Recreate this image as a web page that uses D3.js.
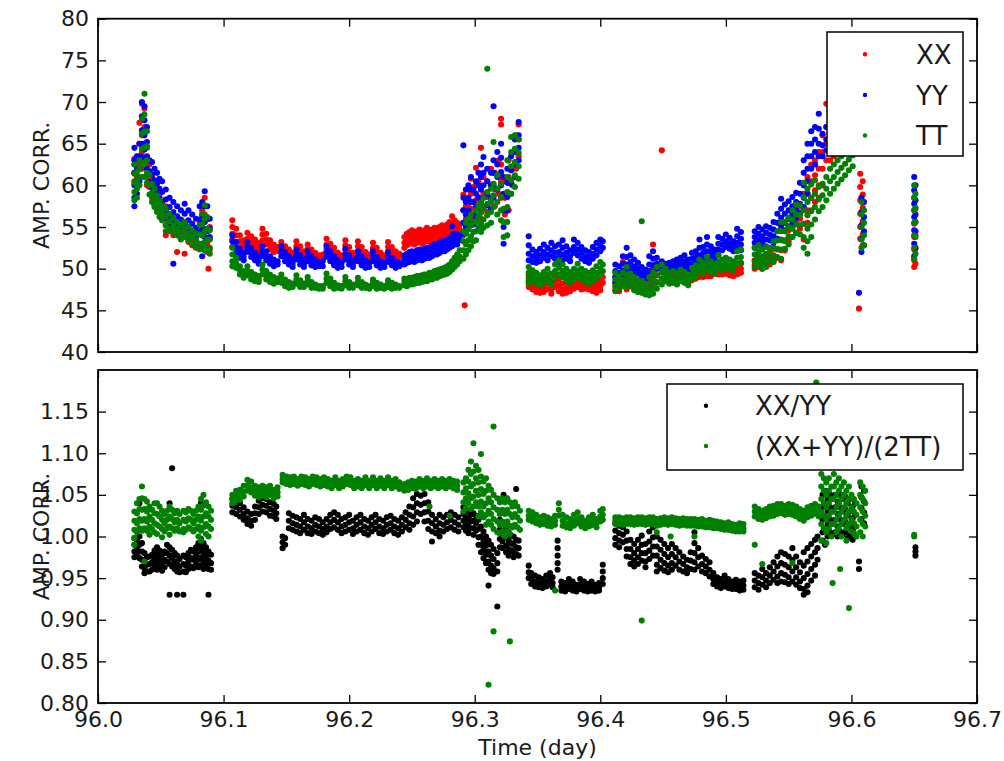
<!DOCTYPE html>
<html><head><meta charset="utf-8">
<script src="https://cdn.jsdelivr.net/npm/d3@7"></script>
<style>html,body{margin:0;padding:0;background:#fff;}svg{display:block;font-family:"DejaVu Sans",sans-serif;}</style>
</head><body><svg id="c" width="1004" height="761"></svg>
<script>
// ---------------- DATA ----------------
const xTicks = [96.0, 96.1, 96.2, 96.3, 96.4, 96.5, 96.6, 96.7];
const topYTicks = [40, 45, 50, 55, 60, 65, 70, 75, 80];
const botYTicks = [0.80, 0.85, 0.90, 0.95, 1.00, 1.05, 1.10, 1.15];
const topLegend = ["XX", "YY", "TT"];
const botLegend = ["XX/YY", "(XX+YY)/(2TT)"];
const yLabel = "AMP. CORR.";
const xLabel = "Time (day)";

// each entry: [time (day), [values read at that time]]
const seriesXX = [
[96.029,[60.5,61.5,62.5,63.2]],[96.031,[60,61,62.5]],[96.033,[63,65,67.5]],[96.035,[69.8,68,66,64,62]],[96.037,[69.2,67,65,63]],
[96.039,[64.5,62.5,61,60]],[96.041,[62.5,61,59.8]],[96.043,[61,59.8,58.5]],[96.045,[60,58.8,57.6]],[96.047,[59.5,58.3,57.2]],
[96.049,[58.6,57.6,56.6]],[96.051,[58,57,56]],[96.054,[57.5,56.3,55.2,54]],[96.057,[56.5,55.5,54.5]],[96.060,[56,55,54]],
[96.063,[55.5,54.5,52]],[96.066,[55,54.3,53.5]],[96.069,[55.5,54.4,51.8]],[96.072,[55,54,53.2]],[96.075,[54.5,53.6,52.8]],
[96.078,[54,53.2,52.5]],[96.081,[55.5,54.3,53]],[96.083,[57,55.5,54,52.8]],[96.085,[58.5,56.5,54.8,53]],[96.087,[56,54.5,53,52]],
[96.088,[50]],[96.089,[55,53.6,52.3]],
[96.107,[55.8,55,54.2,53.5]],[96.110,[54.8,54,53.2]],[96.113,[54,53.3,52.6]],[96.116,[53.4,52.8,52.3]],[96.119,[54.3,53.6,52.9]],
[96.122,[53.9,53.2,52.6]],[96.125,[53.5,52.9,52.3]],[96.128,[53.1,52.6,52.1]],[96.131,[54.8,54.1,53.4]],[96.134,[54.2,53.5,52.9]],
[96.137,[53.4,52.8,52.3]],[96.140,[52.9,52.4,52]],[96.143,[52.6,52.1]],[96.146,[53.2,52.6,52]],[96.149,[52.7,52.1,51.6]],
[96.152,[52.3,51.8,51.3]],[96.155,[51.9,51.4,51]],[96.158,[53.3,52.7,52.1]],[96.161,[52.7,52.1,51.6]],[96.164,[52.1,51.6,51.2]],
[96.167,[52.9,52.3,51.8]],[96.170,[52.3,51.8,51.3]],[96.173,[51.9,51.4,51]],[96.176,[51.6,51.1]],[96.179,[51.7,51.2]],
[96.182,[53.6,52.9,52.3]],[96.185,[53,52.4,51.8]],[96.188,[52.5,51.9,51.4]],[96.191,[51.9,51.4,51]],[96.194,[51.6,51.1]],
[96.197,[53.4,52.8,52.2]],[96.200,[52.6,52,51.5]],[96.203,[51.9,51.4,51]],[96.207,[53.3,52.7,52.1]],[96.210,[52.6,52,51.5]],
[96.213,[52,51.5,51.1]],[96.216,[51.7,51.2]],[96.219,[53.1,52.5,52]],[96.222,[52.5,51.9,51.4]],[96.225,[51.9,51.4,51.1]],
[96.228,[51.6,51.2]],[96.231,[53.2,52.6,52]],[96.234,[52.6,52,51.5]],[96.237,[52.1,51.6,51.2]],[96.240,[51.8,51.4]],
[96.244,[53.8,53.1,52.5]],[96.246,[54.2,53.5,52.8]],[96.248,[54.4,53.7,53]],[96.250,[54.6,53.9,53.2]],[96.252,[54.2,53.5,52.9]],
[96.254,[54.5,53.8,53.1]],[96.256,[54.7,54,53.3]],[96.258,[54.3,53.6,53]],[96.260,[54.6,53.9,53.2]],[96.262,[54.9,54.2,53.5]],
[96.264,[54.5,53.8,53.2]],[96.266,[54.7,54,53.4]],[96.268,[54.9,54.2,53.6]],[96.270,[54.8,54.1,53.5]],[96.272,[55,54.3,53.7]],
[96.274,[55.2,54.5,53.9]],[96.276,[55,54.4,53.8]],[96.278,[55.3,54.6,54]],[96.280,[55.6,54.9,54.2]],[96.282,[56.3,55.5,54.7]],
[96.284,[55.8,55,54.4]],[96.286,[55.5,54.8,54.2]],[96.288,[55.3,54.7]],
[96.291,[58.9,57,55.5,54]],[96.292,[45.6]],[96.293,[57.5,56,54.5]],[96.295,[59.5,57.8,56.2,54.8]],[96.297,[60.8,59,57.2,55.6]],
[96.299,[59.8,58,56.2]],[96.301,[62.1,60,58.2,56.4]],[96.303,[60.5,58.6,56.8]],[96.305,[64.5,59.5,57.7,56]],[96.307,[61,59,57.2]],
[96.310,[60.5,58.6,56.8]],[96.313,[62,60,58]],[96.316,[61.5,59.5,57.5]],[96.319,[63,61,59]],[96.321,[68,67.3,62.5,60.5,58.5]],
[96.324,[60.5,58.5,56.5]],[96.327,[63,61,59,57]],[96.330,[64,62,60]],[96.333,[66,64,62]],[96.335,[67.3,65.5,63.5]],
[96.343,[49.2,48.5,47.8]],[96.346,[48.8,48.1,47.5]],[96.349,[48.5,47.8,47.2]],[96.352,[48.3,47.6,47.1]],[96.355,[48.6,47.8,47.2]],
[96.358,[48.9,48.2,47.5]],[96.361,[48.2,47.5,47]],[96.364,[49.3,48.5,47.8]],[96.367,[48.7,48,47.3]],[96.370,[48.2,47.5,47]],
[96.373,[48.3,47.6,47.1]],[96.376,[48.6,47.9,47.3]],[96.379,[48.9,48.2,47.6]],[96.382,[49.1,48.4,47.8]],[96.385,[48.7,48,47.5]],
[96.388,[48.9,48.2,47.6]],[96.391,[48.6,48,47.5]],[96.394,[48.4,47.8,47.3]],[96.397,[48.2,47.6,47.1]],[96.400,[48.6,47.9,47.4]],
[96.402,[49,48.3]],
[96.412,[49,48.2,47.5]],[96.415,[48.6,47.9,47.3]],[96.418,[50.8,49,48.2]],[96.421,[48.9,48.1,47.5]],[96.424,[49.5,48.6,47.9]],
[96.427,[49,48.3,47.6]],[96.430,[48.6,47.9,47.3]],[96.433,[48.8,48,47.4]],[96.436,[48.3,47.6,47]],[96.439,[48.6,47.9,47.2]],
[96.442,[52.9,50,49,48.2]],[96.445,[50,49.2,48.4]],[96.449,[64.2,49.6,48.8]],[96.452,[50,49.2,48.5]],[96.455,[49.6,48.9,48.3]],
[96.458,[49.6,49,48.4]],[96.461,[49.4,48.8,48.2]],[96.464,[49.8,49.2,48.6]],[96.467,[49.5,48.9,48.4]],[96.470,[49.3,48.7,48.2]],
[96.473,[49.7,49.1,48.6]],[96.476,[49.9,49.3,48.8]],[96.479,[50.1,49.5,49]],[96.482,[49.9,49.4,49]],[96.485,[50.1,49.6,49.1]],
[96.488,[50,49.5,49.1]],[96.491,[50.5,49.9,49.4]],[96.494,[50.3,49.8,49.3]],[96.497,[50.3,49.8,49.3]],[96.500,[50.4,49.9,49.4]],
[96.503,[50.1,49.6,49.2]],[96.506,[50.3,49.7,49.1]],[96.509,[50.5,49.9,49.3]],[96.512,[50.6,50,49.5]],
[96.523,[51,50.5,50]],[96.526,[51.5,50.8,50.2]],[96.529,[51.2,50.6,50]],[96.532,[51.5,50.8,50.2]],[96.535,[52,51.2,50.5]],
[96.538,[52.5,51.6,50.9]],[96.541,[53.5,52.3,51.3]],[96.544,[55,53.5,52.2,51]],[96.547,[54.5,53.3,52.2]],[96.550,[56,54.6,53.3]],
[96.553,[56.5,55,53.8]],[96.556,[57,55.6,54.3]],[96.559,[57.5,56,54.8]],[96.562,[59,57.2,55.4,53.5]],[96.565,[61,59,57,55.5]],
[96.568,[62.5,60.5,58.5,57]],[96.571,[63,61.2,59.4,58]],[96.574,[64,62,60,58.5]],[96.577,[66,64,62,60]],[96.580,[69.8,67,65,63]],
[96.583,[66.5,64.5,63]],[96.586,[67,65,63.5]],[96.589,[67.5,65.5,64]],[96.592,[68,66]],[96.595,[68,66.2]],
[96.606,[45.2]],[96.607,[61.4,59.8,58.2,56.6,55,53.6]],[96.609,[60.5,58.9,57.3,55.7,54.1,52.8]],
[96.650,[58.5,57,55.4,53.8,52.3,51,50.2]],[96.651,[57.2,55.6,54,52.4,50.6]]
];

const seriesYY = [
[96.029,[64.5,63,61.5,60,58.5,57.5]],[96.031,[63.5,62,60.5,59]],[96.033,[65,63.5,62,60.5]],[96.035,[70,68.3,66.6,65,63.4]],
[96.037,[69.5,67.8,66,64.3]],[96.039,[67,65.2,63.5,62]],[96.041,[63,61.7,60.4]],[96.043,[62.8,61.3,59.8]],[96.045,[62,60.6,59.2]],
[96.047,[61.5,60.2,58.9]],[96.049,[60.8,59.6,58.4]],[96.051,[60.5,59.2,57.8]],[96.054,[59.5,58.3,57,56]],[96.057,[58.5,57.4,56.3,55.2]],
[96.060,[58,56.8,55.6,50.6]],[96.063,[57.5,56.3,55.2]],[96.066,[57,55.9,54.8]],[96.069,[57.8,56.6,55.4]],[96.072,[57,55.8,54.7]],
[96.075,[56.5,55.4,54.3]],[96.078,[56,54.9,53.8]],[96.081,[57.5,55.9,54.4]],[96.083,[58,56.4,54.8,51.5]],[96.085,[59.3,57.5,55.6,53.8]],
[96.087,[57.5,56,54.5]],[96.089,[56,54.8,53.8]],
[96.107,[54,53.3,52.6]],[96.110,[53.2,52.5,51.9]],[96.113,[52.4,51.8,51.3]],[96.116,[51.9,51.4,51]],[96.119,[53.2,52.6,52]],
[96.122,[52.5,51.9,51.4]],[96.125,[51.9,51.4,51]],[96.128,[51.5,51,50.6]],[96.131,[52.7,52.1,51.5]],[96.134,[52.1,51.5,51]],
[96.137,[51.5,51,50.6]],[96.140,[51.1,50.7,50.3]],[96.143,[50.9,50.5]],[96.146,[52.7,52.1,51.5]],[96.149,[52,51.4,50.9]],
[96.152,[51.5,50.9,50.5]],[96.155,[51.1,50.6,50.2]],[96.158,[52.3,51.7,51.1]],[96.161,[51.6,51,50.5]],[96.164,[51.1,50.6,50.2]],
[96.167,[52.1,51.5,50.9]],[96.170,[51.5,50.9,50.4]],[96.173,[51.1,50.6,50.2]],[96.176,[50.8,50.3]],[96.179,[50.9,50.3]],
[96.182,[52.7,52,51.4]],[96.185,[52.1,51.5,50.9]],[96.188,[51.5,50.9,50.4]],[96.191,[51,50.5,50.1]],[96.194,[50.7,50.2]],
[96.197,[52.4,51.7,51.1]],[96.200,[51.6,51,50.5]],[96.203,[51.1,50.6,50.2]],[96.207,[52.1,51.5,50.9]],[96.210,[51.5,50.9,50.4]],
[96.213,[51,50.5,50.1]],[96.216,[50.7,50.2]],[96.219,[52.1,51.5,50.9]],[96.222,[51.4,50.9,50.4]],[96.225,[50.9,50.5,50.1]],
[96.228,[50.7,50.2]],[96.231,[52,51.4,50.8]],[96.234,[51.3,50.8,50.4]],[96.237,[50.9,50.5,50.1]],[96.240,[50.7,50.3]],
[96.244,[51.6,51,50.5]],[96.246,[51.8,51.2,50.7]],[96.248,[52,51.4,50.8]],[96.250,[52.1,51.5,50.9]],[96.252,[51.9,51.3,50.8]],
[96.254,[52.2,51.6,51]],[96.256,[52.3,51.7,51.1]],[96.258,[52.1,51.5,51]],[96.260,[52.4,51.8,51.2]],[96.262,[52.5,51.9,51.3]],
[96.264,[52.4,51.8,51.3]],[96.266,[52.7,52.1,51.5]],[96.268,[52.9,52.3,51.7]],[96.270,[52.8,52.2,51.7]],[96.272,[53.1,52.5,51.9]],
[96.274,[53.3,52.7,52.1]],[96.276,[53.2,52.6,52.1]],[96.278,[53.5,52.9,52.3]],[96.280,[53.7,53.1,52.5]],[96.282,[55.1,54,53.3,52.7]],
[96.284,[54.2,53.5,52.9]],[96.286,[54.1,53.4,52.9]],[96.288,[54,53.4]],
[96.291,[64.8,58.5,57,55.5,54.2]],[96.293,[59.5,58,56.5,55]],[96.295,[60,58.5,57,55.8]],[96.297,[61,59.5,58,56.5]],
[96.299,[59.5,58,56.5,55.3]],[96.301,[60.5,59,57.5,56.2]],[96.303,[61.5,60,58.5,57]],[96.305,[62.5,61,59.5,58]],
[96.307,[63.4,61.5,60,58.5]],[96.310,[62,60.5,59,57.6]],[96.313,[61.5,60,58.5,57.2]],[96.315,[69.5,63,61.5,60,58.5]],
[96.318,[64,62.5,61,59.5]],[96.321,[65,63.3,61.6,60]],[96.323,[61,59,57,55,53]],[96.326,[62,60.3,58.6,57]],
[96.329,[63.5,61.8,60.2,59]],[96.332,[65.5,64,62.5,61]],[96.335,[67.6,66,64.5,63]],
[96.343,[53.9,52.8,51.8,51]],[96.346,[52.3,51.5,50.8]],[96.349,[52,51.3,50.7]],[96.352,[52.4,51.6,50.9]],[96.355,[52.9,52,51.3]],
[96.358,[52.5,51.7,51]],[96.361,[53.1,52.2,51.5]],[96.364,[52.7,51.9,51.2]],[96.367,[52.9,52,51.3,50.6]],[96.370,[53.4,52.5,51.7,51]],
[96.373,[52.7,51.9,51.2]],[96.376,[52.2,51.5,50.9]],[96.379,[53.5,52.6,51.9]],[96.382,[53.1,52.3,51.6]],[96.385,[52.6,51.9,51.2]],
[96.388,[52.2,51.5,50.9]],[96.391,[52,51.3,50.7]],[96.394,[52.6,51.8,51.2]],[96.397,[53.1,52.3,51.6]],[96.400,[53.5,52.8,52.1]],
[96.402,[53.3,52.5]],
[96.412,[50.5,49.7,49,48.4]],[96.415,[50.3,49.5,48.9]],[96.418,[51.5,50.6,49.8,49.1]],[96.421,[52.5,51.4,50.5,49.8]],
[96.424,[51.6,50.8,50.1]],[96.427,[51.1,50.3,49.7]],[96.430,[50.7,50,49.4]],[96.433,[50.2,49.5,48.9]],[96.436,[49.9,49.3,48.7]],
[96.439,[51.5,50.5,49.7,49]],[96.442,[52.1,51.2,50.4]],[96.445,[51.3,50.6,50]],[96.449,[50.9,50.2,49.6]],[96.452,[50.6,50,49.4]],
[96.455,[50.7,50.1,49.5]],[96.458,[50.9,50.3,49.7]],[96.461,[51.1,50.5,49.9]],[96.464,[51.3,50.7,50.1]],[96.467,[51.6,50.9,50.3]],
[96.470,[51.1,50.5,49.9]],[96.473,[51.9,51.2,50.5]],[96.476,[52.1,51.4,50.7]],[96.479,[53.5,52.5,51.6,50.9]],[96.482,[52.6,51.9,51.2]],
[96.485,[53.8,52.9,52.1,51.3]],[96.488,[52.7,52,51.3]],[96.491,[52.3,51.7,51.1]],[96.494,[53.8,53,52.3,51.6]],[96.497,[53.6,52.9,52.2]],
[96.500,[54.1,53.3,52.6]],[96.503,[53.7,53,52.4]],[96.506,[53.3,52.7,52.1]],[96.509,[54.8,53.9,53.1,52.4]],[96.512,[54.4,53.6,52.9,52.2]],
[96.523,[54.5,53.8,53.1,52.5]],[96.526,[55,54.2,53.5,52.8]],[96.529,[54.7,53.9,53.2,52.5]],[96.532,[55.1,54.3,53.5,52.7]],
[96.535,[54.9,54.1,53.4]],[96.538,[55.6,54.7,53.9,53.1]],[96.541,[56.6,55.5,54.5,53.6]],[96.544,[58.4,57.2,56.1,55.2]],
[96.547,[57.7,56.6,55.5,54.6]],[96.550,[58.1,57,56,55.1]],[96.553,[58.6,57.5,56.5,55.6]],[96.556,[59.1,58,57,56.1]],
[96.559,[60.3,59,57.8,56.7]],[96.562,[63,61.5,60,58.5,57.4]],[96.565,[65,63.5,62,60.5,59]],[96.568,[66.5,65,63.5,62]],
[96.571,[67,65.5,64,62.5]],[96.574,[68.6,66.8,65,63.5]],[96.577,[66.2,64.8,63.5]],[96.580,[67,65.5,64.2]],
[96.583,[66.2,64.9]],[96.586,[66.6,65.2]],
[96.606,[47.1]],[96.608,[58.5,56.8,55.2,53.6,52]],[96.610,[58,56.2,54.5,52.8]],
[96.650,[61,59.4,57.8,56.2,54.6,53,51.5]],[96.651,[60,58.2,56.5,54.5,52.5]]
];

const seriesTT = [
[96.029,[62.5,61.4,60.3,59.2,58.2]],[96.031,[61.6,60.6,59.6,58.5]],[96.033,[63,62,61,60]],[96.035,[68,66.2,64.4,62.6,61]],
[96.037,[71,68.5,66.5,64.5,62.6,61]],[96.039,[66.5,64.7,63,61.5,60.3]],[96.041,[61.2,60,58.9]],[96.043,[60.2,59.1,58]],
[96.045,[59.6,58.5,57.4]],[96.047,[58.8,57.8,56.8]],[96.049,[58.2,57.2,56.2]],[96.051,[57.6,56.7,55.8]],[96.054,[57.2,56.2,55.2,54.5]],
[96.057,[56.6,55.7,54.8]],[96.060,[56.1,55.2,54.3]],[96.063,[55.6,54.8,54]],[96.066,[55.2,54.4,53.6]],[96.069,[55.6,54.7,53.8]],
[96.072,[55,54.2,53.4]],[96.075,[54.6,53.8,53]],[96.078,[54.2,53.4,52.6]],[96.081,[55.2,54.1,53,52.3]],[96.083,[56.6,55.3,54,52.8]],
[96.085,[57.6,56,54.5,53.2,52.2]],[96.087,[56.2,54.8,53.5,52.4]],[96.089,[54.6,53.5,52.5,51.8]],
[96.107,[52.5,51.7,50.9,50.3]],[96.110,[51.3,50.7,50.1]],[96.113,[50.3,49.8,49.3]],[96.116,[49.7,49.3,48.9]],[96.119,[50.3,49.7,49.2]],
[96.122,[49.6,49.1,48.7]],[96.125,[49.3,48.9,48.5]],[96.128,[49.1,48.7,48.4]],[96.131,[50.5,49.9,49.3]],[96.134,[49.7,49.2,48.7]],
[96.137,[49.3,48.8,48.4]],[96.140,[49,48.6,48.2]],[96.143,[48.8,48.4]],[96.146,[49.3,48.8,48.3]],[96.149,[48.7,48.3,47.9]],
[96.152,[48.4,48,47.7]],[96.155,[48.2,47.8]],[96.158,[49.2,48.7,48.2]],[96.161,[48.6,48.2,47.8]],[96.164,[48.2,47.8]],
[96.167,[49,48.5,48.1]],[96.170,[48.4,48,47.7]],[96.173,[48.1,47.7]],[96.176,[47.9,47.6]],[96.179,[47.9,47.6]],
[96.182,[49.4,48.8,48.3]],[96.185,[48.8,48.3,47.9]],[96.188,[48.3,47.9,47.6]],[96.191,[48,47.7]],[96.194,[47.9,47.6]],
[96.197,[49,48.5,48]],[96.200,[48.4,48,47.7]],[96.203,[48.1,47.7]],[96.207,[48.9,48.4,48]],[96.210,[48.4,48,47.7]],
[96.213,[48.1,47.7]],[96.216,[47.9,47.6]],[96.219,[48.7,48.3,47.9]],[96.222,[48.3,47.9,47.6]],[96.225,[48.1,47.7]],
[96.228,[47.9,47.6]],[96.231,[48.6,48.2,47.8]],[96.234,[48.3,47.9,47.6]],[96.237,[48.1,47.7]],[96.240,[47.9,47.7]],
[96.244,[48.8,48.4,48]],[96.246,[48.7,48.3,47.9]],[96.248,[48.9,48.5,48.1]],[96.250,[48.9,48.5,48.1]],[96.252,[49,48.6,48.2]],
[96.254,[49.1,48.7,48.3]],[96.256,[49.1,48.7,48.3]],[96.258,[49.2,48.8,48.4]],[96.260,[49.3,48.9,48.5]],[96.262,[49.3,48.9,48.5]],
[96.264,[49.5,49.1,48.7]],[96.266,[49.5,49.1,48.7]],[96.268,[49.7,49.3,48.9]],[96.270,[49.8,49.3,48.9]],[96.272,[49.9,49.5,49.1]],
[96.274,[50,49.6,49.2]],[96.276,[50.1,49.7,49.3]],[96.278,[50.3,49.8,49.4]],[96.280,[50.5,50,49.6]],[96.282,[50.9,50.4,49.9]],
[96.284,[51.3,50.7,50.2]],[96.286,[51.7,51.1,50.5]],[96.288,[52.2,51.5,50.9]],
[96.291,[54.5,53.3,52.2,51.2]],[96.293,[55.5,54.2,52.9,51.7]],[96.295,[56,54.7,53.4,52.2]],[96.297,[56.5,55.2,53.9,52.7]],
[96.299,[55.6,54.4,53.3]],[96.301,[57,55.7,54.5,53.4]],[96.303,[57.5,56.2,55]],[96.305,[58,56.7,55.4,54.4]],
[96.307,[58.5,57.2,55.9,54.9]],[96.310,[74,59.2,57.8,56.4,55.2]],[96.313,[59.6,58.2,56.8,55.5]],[96.315,[65.2,60.2,58.8,57.4]],
[96.318,[61.2,59.6,58,56.5]],[96.321,[60.2,58.6,57,55.8]],[96.323,[57.2,55.6,53.8]],[96.326,[63,61,59.2,57.4,55.6,54]],
[96.329,[65.8,64,62.3,60.6,59]],[96.332,[66,64.4,62.8,61.2,59.8]],[96.335,[65.5,63.9,62.3,60.8]],
[96.343,[50.2,49.5,48.8,48.2]],[96.346,[49.8,49.1,48.5]],[96.349,[49.5,48.8,48.2]],[96.352,[49.2,48.6,48]],[96.355,[49.6,48.9,48.3]],
[96.358,[50,49.3,48.6]],[96.361,[49.4,48.7,48.1]],[96.364,[50.5,49.7,48.9]],[96.367,[51,50.1,49.3]],[96.370,[50.5,49.7,49]],
[96.373,[50,49.3,48.6]],[96.376,[49.6,48.9,48.3]],[96.379,[50,49.3,48.7]],[96.382,[50.6,49.8,49.1]],[96.385,[50,49.3,48.7]],
[96.388,[49.7,49,48.4]],[96.391,[49.5,48.8,48.2]],[96.394,[49.8,49.1,48.5]],[96.397,[50.3,49.5,48.8]],[96.400,[50.8,50,49.3]],
[96.402,[50.5,49.7]],
[96.412,[49.5,48.7,47.9,47.3]],[96.415,[49,48.3,47.6]],[96.418,[49.5,48.7,47.9]],[96.421,[50.2,49.3,48.5,47.8]],[96.424,[49.4,48.7,48]],
[96.427,[49,48.2,47.4]],[96.430,[48.6,47.9,47.2]],[96.433,[55.7,48.5,47.8,47.1]],[96.436,[48.2,47.5,46.9]],[96.439,[49,48.1,47.3,46.8]],
[96.442,[49.5,48.6,47.7,47]],[96.445,[50.2,49.2,48.3,47.6]],[96.449,[50.5,49.6,48.8,48.1]],[96.452,[50,49.2,48.5]],[96.455,[49.5,48.8,48.2]],
[96.458,[49.7,48.9,48.3]],[96.461,[49.4,48.7,48.1]],[96.464,[49.9,49.1,48.5]],[96.467,[49.6,48.9,48.3]],[96.470,[49.3,48.6,48]],
[96.473,[50.1,49.3,48.7]],[96.476,[50.4,49.7,49.1]],[96.479,[51.1,50.3,49.7]],[96.482,[50.7,50,49.4]],[96.485,[51.4,50.6,49.9]],
[96.488,[50.9,50.2,49.6]],[96.491,[50.6,49.9,49.4]],[96.494,[51.6,50.8,50.1]],[96.497,[51.1,50.4,49.8]],[96.500,[51.3,50.6,50]],
[96.503,[51.1,50.4,49.9]],[96.506,[50.9,50.3,49.8]],[96.509,[52.1,51.3,50.6]],[96.512,[52.3,51.4,50.7]],
[96.523,[52.5,51.7,50.9,50.2]],[96.526,[52.8,52,51.2,50.5]],[96.529,[52.3,51.5,50.7,50]],[96.532,[52.6,51.8,51,50.3]],
[96.535,[52.5,51.7,50.9]],[96.538,[53.3,52.4,51.5,50.8]],[96.541,[54.5,53.4,52.4,51.4]],[96.544,[55.6,54.5,53.4,52.3,51.2]],
[96.547,[55.6,54.5,53.4,52.4]],[96.550,[56.1,55,53.9,52.9]],[96.553,[57,55.9,54.8,53.8]],[96.556,[57.7,56.5,55.3,54.3]],
[96.559,[57.6,56.4,55.2,54.1]],[96.562,[60.3,58.6,57,55.4,53.8,52.5]],[96.565,[59.6,58,56.4,54.8,53.3,51.8]],
[96.568,[60.1,58.5,56.9,55.3,53.8]],[96.571,[60.6,59,57.4,55.9]],[96.574,[59.8,58.3,56.9]],[96.577,[60.2,58.8,57.4]],
[96.580,[61,59.6,58.2]],[96.583,[62,60.5,59]],[96.586,[62.5,61,59.6]],[96.589,[63,61.6,60.2]],[96.592,[63.5,62.1,60.7]],
[96.595,[64,62.6,61.2]],[96.598,[64.5,63.1,61.8]],[96.601,[65,63.6,62.3]],
[96.608,[58,56.5,55,53.5,52.5]],[96.610,[57,55.5,54,52.8]],
[96.650,[60,58.5,57,55.5,54,52.5,51.2]],[96.651,[59,57.3,55.6,53.8,51.8]]
];

const seriesRatio = [
[96.029,[0.998,0.99,0.982,0.975]],[96.031,[0.995,0.987,0.979]],[96.033,[1.04,1.0,0.99,0.982,0.974]],[96.035,[0.992,0.982,0.972,0.964]],
[96.037,[0.98,0.971,0.962,0.956]],[96.039,[0.975,0.966,0.958]],[96.041,[0.976,0.967,0.958]],[96.043,[0.978,0.969,0.96]],
[96.045,[0.983,0.973,0.964]],[96.047,[0.987,0.977,0.967,0.96]],[96.049,[0.983,0.973,0.964]],[96.051,[0.978,0.968,0.959]],
[96.053,[0.982,0.972,0.963]],[96.055,[0.99,0.98,0.97]],[96.057,[1.04,0.987,0.977,0.967,0.93]],[96.059,[1.082,0.984,0.974,0.964]],
[96.061,[0.98,0.97,0.961]],[96.063,[0.977,0.967,0.958,0.93]],[96.065,[0.973,0.964,0.957]],[96.068,[0.977,0.967,0.958,0.93]],
[96.070,[0.975,0.965,0.957]],[96.072,[0.98,0.97,0.961]],[96.074,[0.984,0.974,0.964]],[96.076,[0.982,0.972,0.962]],
[96.078,[0.987,0.977,0.967]],[96.080,[0.992,0.982,0.972,0.963]],[96.082,[1.04,0.997,0.986,0.975,0.965]],[96.084,[0.992,0.981,0.97,0.961]],
[96.086,[0.987,0.976,0.966]],[96.088,[0.982,0.971,0.961,0.93]],[96.090,[0.978,0.968,0.96]],
[96.107,[1.045,1.037,1.029]],[96.110,[1.043,1.035,1.027]],[96.113,[1.04,1.032,1.024]],[96.116,[1.035,1.027,1.02]],[96.119,[1.03,1.022,1.015]],
[96.122,[1.027,1.019,1.013]],[96.125,[1.036,1.028,1.02]],[96.128,[1.043,1.035,1.027]],[96.131,[1.046,1.038,1.03]],[96.134,[1.045,1.037,1.029]],
[96.137,[1.041,1.033,1.025]],[96.140,[1.039,1.031,1.024]],[96.142,[1.036,1.028,1.021]],[96.147,[1.0,0.993,0.986]],[96.149,[0.998,0.99]],
[96.152,[1.028,1.019,1.01]],[96.155,[1.025,1.016,1.008]],[96.158,[1.023,1.014,1.006]],[96.161,[1.021,1.012,1.004]],[96.164,[1.026,1.017,1.008]],
[96.167,[1.021,1.012,1.004]],[96.170,[1.019,1.01,1.003]],[96.173,[1.023,1.014,1.006]],[96.176,[1.021,1.012,1.004]],[96.179,[1.017,1.009,1.002]],
[96.182,[1.021,1.012,1.005]],[96.185,[1.026,1.017,1.009]],[96.188,[1.029,1.02,1.011]],[96.191,[1.026,1.017,1.008]],[96.194,[1.021,1.012,1.004]],
[96.197,[1.023,1.014,1.006]],[96.200,[1.026,1.017,1.008]],[96.203,[1.019,1.01,1.003]],[96.206,[1.023,1.014,1.006]],[96.209,[1.026,1.017,1.008]],
[96.212,[1.021,1.012,1.004]],[96.215,[1.019,1.01,1.002]],[96.218,[1.023,1.014,1.006]],[96.221,[1.026,1.017,1.009]],[96.224,[1.021,1.012,1.004]],
[96.227,[1.019,1.01,1.003]],[96.230,[1.023,1.014,1.006]],[96.233,[1.025,1.016,1.008]],[96.236,[1.021,1.012,1.004]],[96.239,[1.019,1.01,1.002]],
[96.242,[1.023,1.014,1.006]],[96.245,[1.029,1.02,1.011]],[96.248,[1.036,1.026,1.016,1.008]],[96.251,[1.046,1.035,1.024,1.014]],
[96.254,[1.051,1.04,1.029,1.018]],[96.257,[1.049,1.038,1.027]],[96.260,[1.051,1.04,1.029,1.018]],[96.263,[1.041,1.03,1.019,1.009]],
[96.266,[1.026,1.016,1.006,0.994]],[96.269,[1.021,1.012,1.004]],[96.272,[1.026,1.016,1.007,1.0]],[96.275,[1.023,1.014,1.006]],
[96.278,[1.026,1.017,1.009]],[96.281,[1.029,1.02,1.011]],[96.284,[1.026,1.017,1.008]],[96.287,[1.023,1.014,1.006]],
[96.291,[1.035,1.027,1.019,1.011]],[96.293,[1.031,1.023,1.015,1.007]],[96.295,[1.03,1.021,1.012,1.004]],[96.297,[1.026,1.018,1.01]],
[96.299,[1.028,1.019,1.01,1.002]],[96.301,[1.025,1.016,1.007]],[96.303,[1.02,1.009,0.999,0.99]],[96.305,[1.012,1.0,0.99,0.981]],
[96.307,[1.006,0.995,0.984,0.974]],[96.309,[1.0,0.989,0.978,0.968]],[96.311,[0.995,0.982,0.97,0.96,0.941]],[96.313,[0.99,0.977,0.965,0.956]],
[96.315,[0.985,0.973,0.962,0.955]],[96.318,[0.98,0.968,0.958,0.916]],[96.320,[1.02,1.008,0.997,0.987]],[96.322,[1.015,1.004,0.994,0.986]],
[96.323,[1.05,1.03]],[96.325,[1.01,0.999,0.989,0.981]],[96.327,[1.005,0.995,0.985,0.977]],[96.329,[1.001,0.992,0.983]],
[96.331,[1.0,0.99,0.981,0.975]],[96.333,[1.057,0.996,0.987,0.979]],[96.335,[0.995,0.986,0.977]],
[96.343,[0.965,0.957,0.95]],[96.345,[0.956,0.949,0.943]],[96.348,[0.953,0.946,0.94]],[96.351,[0.951,0.944,0.939]],[96.354,[0.949,0.943,0.938]],
[96.357,[0.953,0.946,0.94]],[96.360,[0.956,0.949,0.942]],[96.362,[0.951,0.944,0.939]],[96.366,[0.995,0.986,0.977,0.968,0.96]],
[96.369,[0.946,0.94,0.935]],[96.372,[0.944,0.938,0.934]],[96.375,[0.949,0.942,0.937]],[96.378,[0.946,0.94,0.935]],[96.381,[0.942,0.937,0.934]],
[96.384,[0.949,0.942,0.937]],[96.387,[0.946,0.94,0.935]],[96.390,[0.943,0.938,0.934]],[96.393,[0.946,0.94,0.935]],[96.396,[0.942,0.937,0.934]],
[96.399,[0.944,0.939,0.935]],[96.402,[0.966,0.958,0.95,0.943]],
[96.412,[1.016,1.007,0.998,0.99]],[96.415,[1.013,1.004,0.995,0.987]],[96.418,[1.011,1.002,0.993]],[96.421,[1.006,0.995,0.985,0.976]],
[96.424,[0.996,0.985,0.975,0.967]],[96.427,[0.991,0.98,0.971,0.964]],[96.430,[0.996,0.985,0.975,0.967]],[96.433,[1.001,0.99,0.98,0.971]],
[96.436,[0.991,0.98,0.97,0.963]],[96.439,[1.006,0.994,0.983,0.973]],[96.442,[1.011,0.999,0.988,0.977]],[96.445,[1.0,0.988,0.977,0.966,0.958]],
[96.448,[0.996,0.984,0.972,0.962]],[96.451,[0.991,0.979,0.968,0.959]],[96.454,[0.986,0.975,0.965,0.957]],[96.457,[0.991,0.979,0.968,0.96]],
[96.460,[0.986,0.975,0.965]],[96.463,[0.981,0.97,0.96]],[96.466,[0.976,0.967,0.958]],[96.469,[0.972,0.963,0.956]],
[96.472,[0.981,0.971,0.961]],[96.475,[1.005,0.992,0.98,0.969,0.96]],[96.478,[0.986,0.975,0.964]],[96.481,[0.977,0.967,0.958]],
[96.484,[0.973,0.964,0.956]],[96.487,[0.969,0.96,0.952]],[96.490,[0.956,0.949,0.943]],[96.493,[0.951,0.945,0.94]],[96.496,[0.949,0.943,0.938]],
[96.499,[0.953,0.946,0.94]],[96.502,[0.949,0.943,0.938]],[96.505,[0.946,0.941,0.937]],[96.508,[0.948,0.942,0.937]],
[96.511,[0.946,0.94,0.935]],[96.514,[0.947,0.941,0.936]],
[96.523,[0.956,0.947,0.939]],[96.526,[0.953,0.944,0.936]],[96.529,[0.961,0.951,0.942]],[96.532,[0.956,0.947,0.939]],
[96.535,[0.963,0.953,0.944]],[96.538,[0.969,0.958,0.948]],[96.541,[0.976,0.964,0.952,0.944]],[96.544,[0.981,0.968,0.956,0.946]],
[96.547,[0.979,0.966,0.954,0.945]],[96.550,[0.976,0.963,0.951,0.943]],[96.553,[0.986,0.972,0.958,0.946]],[96.556,[0.976,0.963,0.951,0.942]],
[96.559,[0.969,0.957,0.946,0.938]],[96.562,[0.981,0.965,0.95,0.937,0.93]],[96.565,[0.986,0.97,0.955,0.941,0.933]],
[96.568,[0.991,0.976,0.961,0.947]],[96.571,[0.996,0.981,0.966,0.953]],[96.573,[1.0,0.986,0.972]],
[96.577,[1.05,1.035,1.02,1.005,0.995]],[96.579,[1.055,1.04,1.025,1.01,0.99]],[96.581,[1.045,1.03,1.015,1.0]],[96.583,[1.05,1.035,1.02,1.005]],
[96.585,[1.045,1.03,1.015,1.002]],[96.587,[1.05,1.035,1.02,1.005]],[96.589,[1.042,1.027,1.012,1.0]],[96.591,[1.05,1.035,1.02,1.006]],
[96.593,[1.045,1.03,1.015,1.002]],[96.595,[1.048,1.033,1.018,1.005]],[96.597,[1.04,1.025,1.01,0.998]],[96.599,[1.045,1.03,1.015,1.002]],
[96.601,[1.036,1.022,1.008,0.996]],[96.603,[1.04,1.026,1.012]],[96.606,[0.97,0.961]],[96.608,[1.06,1.047,1.034,1.021]],
[96.610,[1.055,1.042,1.029,1.016]],
[96.651,[0.987,0.982,0.977]]
];

const seriesSum = [
[96.029,[1.03,1.019,1.008,0.998,0.99]],[96.031,[1.04,1.028,1.016,1.005]],[96.033,[1.045,1.033,1.021,1.01]],[96.035,[1.06,1.046,1.032,1.019,1.007]],
[96.037,[1.045,1.033,1.021,1.01,0.97]],[96.039,[1.042,1.03,1.018,1.007]],[96.041,[1.036,1.024,1.012,1.002]],[96.043,[1.032,1.02,1.009]],
[96.045,[1.04,1.028,1.016,1.005]],[96.047,[1.04,1.027,1.014,1.003]],[96.049,[1.036,1.024,1.012]],[96.051,[1.031,1.02,1.009,0.999]],
[96.053,[1.027,1.016,1.006]],[96.055,[1.031,1.02,1.01]],[96.057,[1.036,1.024,1.012,1.002]],[96.059,[1.032,1.021,1.01]],
[96.061,[1.028,1.017,1.007]],[96.063,[1.031,1.02,1.01]],[96.065,[1.027,1.016,1.006]],[96.068,[1.031,1.02,1.009,1.005]],
[96.070,[1.029,1.018,1.008]],[96.072,[1.033,1.022,1.011]],[96.074,[1.031,1.02,1.009]],[96.076,[1.027,1.016,1.006]],
[96.078,[1.031,1.02,1.009]],[96.080,[1.036,1.024,1.012,1.0]],[96.082,[1.045,1.032,1.019,1.007,0.995]],[96.084,[1.05,1.037,1.024,1.011]],
[96.086,[1.041,1.028,1.015,1.003]],[96.088,[1.036,1.024,1.012,1.0]],[96.090,[1.031,1.02,1.009]],
[96.107,[1.05,1.045,1.04]],[96.110,[1.055,1.049,1.043]],[96.113,[1.056,1.05,1.044]],[96.116,[1.061,1.054,1.048]],[96.119,[1.068,1.061,1.055]],
[96.122,[1.066,1.059,1.053]],[96.125,[1.061,1.055,1.049]],[96.128,[1.059,1.053,1.047]],[96.131,[1.061,1.055,1.049]],[96.134,[1.059,1.053,1.047]],
[96.137,[1.061,1.055,1.05]],[96.140,[1.056,1.051,1.046]],[96.143,[1.059,1.053,1.048]],[96.147,[1.074,1.069,1.065]],[96.150,[1.072,1.067,1.063]],
[96.153,[1.071,1.066,1.062]],[96.156,[1.072,1.067,1.063]],[96.159,[1.069,1.065,1.061]],[96.162,[1.072,1.067,1.063]],[96.165,[1.071,1.066,1.062]],
[96.168,[1.069,1.064,1.06]],[96.171,[1.072,1.067,1.063]],[96.174,[1.071,1.066,1.062]],[96.177,[1.069,1.064,1.06]],[96.180,[1.071,1.066,1.062]],
[96.183,[1.069,1.064,1.06]],[96.186,[1.067,1.062,1.058]],[96.189,[1.071,1.066,1.062]],[96.192,[1.067,1.062,1.058]],[96.195,[1.069,1.064,1.06]],
[96.198,[1.072,1.067,1.063]],[96.201,[1.071,1.066,1.062]],[96.204,[1.067,1.062,1.058]],[96.207,[1.069,1.064,1.06]],[96.210,[1.067,1.062,1.058]],
[96.213,[1.071,1.066,1.062]],[96.216,[1.067,1.062,1.058]],[96.219,[1.071,1.066,1.062]],[96.222,[1.067,1.062,1.058]],[96.225,[1.07,1.065,1.061]],
[96.228,[1.067,1.062,1.058]],[96.231,[1.071,1.066,1.062]],[96.234,[1.067,1.062,1.058]],[96.237,[1.069,1.064,1.06]],[96.240,[1.065,1.061,1.057]],
[96.244,[1.063,1.059,1.055]],[96.247,[1.065,1.06,1.056]],[96.250,[1.067,1.062,1.058]],[96.253,[1.066,1.061,1.057]],[96.256,[1.069,1.064,1.06]],
[96.259,[1.067,1.062,1.058]],[96.262,[1.07,1.065,1.06]],[96.264,[1.036]],[96.265,[1.067,1.062,1.058]],[96.268,[1.069,1.064,1.06]],
[96.271,[1.067,1.062,1.058]],[96.274,[1.069,1.064,1.06]],[96.277,[1.067,1.062,1.058]],[96.280,[1.069,1.064,1.06,1.025]],[96.283,[1.067,1.062,1.058]],
[96.286,[1.066,1.061,1.056]],
[96.291,[1.065,1.053,1.041,1.03]],[96.293,[1.07,1.058,1.046,1.034]],[96.295,[1.08,1.066,1.052,1.04]],[96.297,[1.09,1.075,1.06,1.046,1.033]],
[96.299,[1.112,1.078,1.063,1.048,1.036]],[96.301,[1.085,1.07,1.055,1.041]],[96.303,[1.08,1.065,1.05,1.036,1.024]],[96.305,[1.099,1.072,1.057,1.042,1.029]],
[96.307,[1.066,1.051,1.036,1.023]],[96.309,[1.07,1.055,1.04,1.026,1.014]],[96.311,[1.061,1.046,1.031,1.018,0.822]],[96.313,[1.056,1.041,1.027,1.014]],
[96.315,[1.132,1.05,1.035,1.021,1.009,0.886]],[96.318,[1.046,1.032,1.018,1.005]],[96.320,[1.041,1.027,1.014,1.004]],[96.322,[1.046,1.032,1.018,1.006]],
[96.324,[1.041,1.027,1.013,1.0]],[96.326,[1.046,1.032,1.018,1.006]],[96.328,[1.041,1.027,1.013,1.003,0.874]],[96.330,[1.036,1.023,1.011]],
[96.332,[1.041,1.027,1.014]],[96.334,[1.036,1.023,1.011]],[96.336,[1.031,1.019,1.008]],
[96.343,[1.031,1.025,1.02]],[96.346,[1.029,1.023,1.018]],[96.349,[1.026,1.021,1.016]],[96.352,[1.023,1.018,1.014]],[96.355,[1.025,1.02,1.015]],
[96.358,[1.023,1.018,1.013]],[96.361,[1.021,1.016,1.012]],[96.364,[1.025,1.019,1.014,0.935]],[96.367,[1.04,1.032,1.025]],[96.370,[1.026,1.019,1.013]],
[96.373,[1.023,1.016,1.011]],[96.376,[1.021,1.015,1.01]],[96.379,[1.026,1.019,1.013]],[96.382,[1.029,1.022,1.016]],[96.385,[1.023,1.017,1.012]],
[96.388,[1.019,1.014,1.01]],[96.391,[1.023,1.017,1.012]],[96.394,[1.026,1.02,1.014]],[96.397,[1.021,1.016,1.011]],[96.400,[1.031,1.024,1.018]],
[96.402,[1.033,1.026,1.02]],
[96.412,[1.023,1.019,1.015]],[96.415,[1.023,1.019,1.015]],[96.418,[1.022,1.018,1.014]],[96.421,[1.023,1.019,1.015]],[96.424,[1.023,1.019,1.015]],
[96.427,[1.022,1.018,1.014]],[96.430,[1.023,1.019,1.015]],[96.433,[1.023,1.019,1.015,0.899]],[96.436,[1.022,1.018,1.014]],[96.439,[1.023,1.019,1.015]],
[96.442,[1.023,1.019,1.015]],[96.445,[1.021,1.017,1.013,1.005]],[96.448,[1.022,1.018,1.014]],[96.451,[1.023,1.019,1.015]],[96.454,[1.022,1.018,1.014]],
[96.456,[1.0]],[96.457,[1.023,1.019,1.015]],[96.460,[1.022,1.018,1.014]],[96.463,[1.021,1.017,1.013]],[96.466,[1.022,1.018,1.014]],
[96.469,[1.021,1.017,1.013]],[96.472,[1.021,1.017,1.013]],[96.475,[1.021,1.017,1.013,1.0]],[96.478,[1.02,1.016,1.012]],[96.481,[1.021,1.016,1.012]],
[96.484,[1.019,1.015,1.011]],[96.487,[1.02,1.015,1.011]],[96.490,[1.019,1.014,1.01]],[96.493,[1.018,1.014,1.01]],[96.496,[1.017,1.013,1.009]],
[96.499,[1.016,1.012,1.008]],[96.502,[1.017,1.012,1.008]],[96.505,[1.015,1.011,1.007]],[96.508,[1.014,1.01,1.006]],[96.511,[1.016,1.011,1.006]],
[96.514,[1.015,1.01,1.006]],
[96.523,[1.036,1.03,1.024,0.99]],[96.526,[1.033,1.027,1.021]],[96.529,[1.031,1.026,1.02,0.967]],[96.532,[1.033,1.027,1.022]],[96.535,[1.036,1.03,1.024]],
[96.538,[1.037,1.031,1.025]],[96.541,[1.039,1.033,1.027]],[96.544,[1.039,1.033,1.028]],[96.547,[1.037,1.031,1.026]],[96.550,[1.039,1.033,1.027]],
[96.553,[1.038,1.032,1.026,0.968]],[96.556,[1.036,1.03,1.024]],[96.559,[1.033,1.027,1.021]],[96.562,[1.031,1.025,1.019]],[96.565,[1.035,1.029,1.023]],
[96.568,[1.037,1.031,1.025]],[96.571,[1.039,1.033,1.027]],[96.572,[1.185]],[96.574,[1.036,1.03,1.024]],
[96.576,[1.075,1.06,1.045,1.03,1.015,0.995]],[96.578,[1.07,1.055,1.04,1.025,1.01]],[96.580,[1.065,1.05,1.035,1.02,1.005,0.992]],
[96.582,[1.07,1.055,1.04,1.025,1.01]],[96.584,[1.06,1.045,1.03,1.015,1.0]],[96.585,[0.944]],[96.586,[1.075,1.06,1.045,1.03,1.015]],
[96.588,[1.065,1.05,1.035,1.02,1.005]],[96.590,[1.07,1.055,1.04,1.025,1.01]],[96.591,[0.961]],[96.592,[1.06,1.045,1.03,1.015,1.0]],
[96.594,[1.065,1.05,1.035,1.02]],[96.596,[1.055,1.04,1.025,1.01,0.995]],[96.598,[1.06,1.045,1.03,1.015,0.914]],[96.600,[1.05,1.035,1.02,1.006]],
[96.602,[1.045,1.03,1.016,1.004]],[96.604,[1.04,1.026,1.012,1.0]],[96.607,[1.065,1.05,1.035,1.02,1.005]],[96.609,[1.06,1.045,1.03,1.015,1.0]],
[96.611,[1.055,1.04,1.025,1.012]],
[96.650,[1.0,1.002]]
];

// ---------------- DRAW ----------------
const W = 1004, H = 761;
const L = 98, R = 977;
const T1 = 18.7, B1 = 352, T2 = 370, B2 = 703;
const FS = 22, LFS = 26, PR = 3.05;

const x = d3.scaleLinear().domain([96.0, 96.7]).range([L, R]);
const yTop = d3.scaleLinear().domain([40, 80]).range([B1, T1]);
const yBot = d3.scaleLinear().domain([0.8, 1.2]).range([B2, T2]);

const svg = d3.select("#c");
svg.append("rect").attr("width", W).attr("height", H).attr("fill", "#fff");

const defs = svg.append("defs");
defs.append("clipPath").attr("id", "clipTop").append("rect")
  .attr("x", L).attr("y", T1).attr("width", R - L).attr("height", B1 - T1);
defs.append("clipPath").attr("id", "clipBot").append("rect")
  .attr("x", L).attr("y", T2).attr("width", R - L).attr("height", B2 - T2);

function flat(series) {
  const out = [];
  series.forEach(([t, vs]) => vs.forEach(v => out.push([t, v])));
  return out;
}

function drawSeries(g, series, y, color) {
  g.append("g").selectAll("circle").data(flat(series)).join("circle")
    .attr("cx", d => x(d[0])).attr("cy", d => y(d[1])).attr("r", PR)
    .attr("fill", color);
}

const gTop = svg.append("g").attr("clip-path", "url(#clipTop)");
drawSeries(gTop, seriesXX, yTop, "#ff0000");
drawSeries(gTop, seriesYY, yTop, "#0000ff");
drawSeries(gTop, seriesTT, yTop, "#008000");

const gBot = svg.append("g").attr("clip-path", "url(#clipBot)");
drawSeries(gBot, seriesRatio, yBot, "#000000");
drawSeries(gBot, seriesSum, yBot, "#008000");

function styleAxis(g) {
  g.select(".domain").remove();
  g.selectAll(".tick line").attr("stroke", "#000").attr("stroke-width", 1.3);
  g.selectAll(".tick text").attr("fill", "#1a1a1a").style("font-size", FS + "px")
    .style("font-family", "'DejaVu Sans', sans-serif");
}

function axes(y, top, bottom, yTicks, yFmt, showX) {
  svg.append("g").attr("transform", `translate(0,${bottom})`)
    .call(d3.axisBottom(x).tickValues(xTicks).tickSize(-8).tickPadding(8)
      .tickFormat(showX ? d3.format(".1f") : () => ""))
    .call(styleAxis);
  svg.append("g").attr("transform", `translate(0,${top})`)
    .call(d3.axisTop(x).tickValues(xTicks).tickSize(-8).tickFormat(() => ""))
    .call(styleAxis);
  svg.append("g").attr("transform", `translate(${L},0)`)
    .call(d3.axisLeft(y).tickValues(yTicks).tickSize(-8).tickPadding(9).tickFormat(yFmt))
    .call(styleAxis);
  svg.append("g").attr("transform", `translate(${R},0)`)
    .call(d3.axisRight(y).tickValues(yTicks).tickSize(-8).tickFormat(() => ""))
    .call(styleAxis);
  svg.append("rect").attr("x", L).attr("y", top).attr("width", R - L).attr("height", bottom - top)
    .attr("fill", "none").attr("stroke", "#000").attr("stroke-width", 1.8);
}

axes(yTop, T1, B1, topYTicks, d3.format("d"), false);
axes(yBot, T2, B2, botYTicks, d3.format(".2f"), true);

// axis labels
svg.append("text").attr("transform", `translate(49,${(T1 + B1) / 2}) rotate(-90)`)
  .attr("text-anchor", "middle").style("font-size", FS + "px").attr("fill", "#1a1a1a").text(yLabel);
svg.append("text").attr("transform", `translate(49,${(T2 + B2) / 2}) rotate(-90)`)
  .attr("text-anchor", "middle").style("font-size", FS + "px").attr("fill", "#1a1a1a").text(yLabel);
svg.append("text").attr("x", (L + R) / 2).attr("y", 755)
  .attr("text-anchor", "middle").style("font-size", FS + "px").attr("fill", "#1a1a1a").text(xLabel);

// legends
function legend(x0, y0, w, h, mx, tx, rows, labels, colors) {
  const g = svg.append("g");
  g.append("rect").attr("x", x0).attr("y", y0).attr("width", w).attr("height", h)
    .attr("fill", "#fff").attr("stroke", "#000").attr("stroke-width", 1.5);
  labels.forEach((lab, i) => {
    g.append("circle").attr("cx", mx).attr("cy", rows[i]).attr("r", 2.2).attr("fill", colors[i]);
    g.append("text").attr("x", tx).attr("y", rows[i] + 9.5).style("font-size", LFS + "px")
      .attr("fill", "#1a1a1a").text(lab);
  });
}
legend(827, 32, 136, 124, 865, 916, [54.3, 95, 135.5], topLegend, ["#ff0000", "#0000ff", "#008000"]);
legend(667, 384, 296, 86, 706, 755, [405.7, 446], botLegend, ["#000000", "#008000"]);
</script></body></html>
